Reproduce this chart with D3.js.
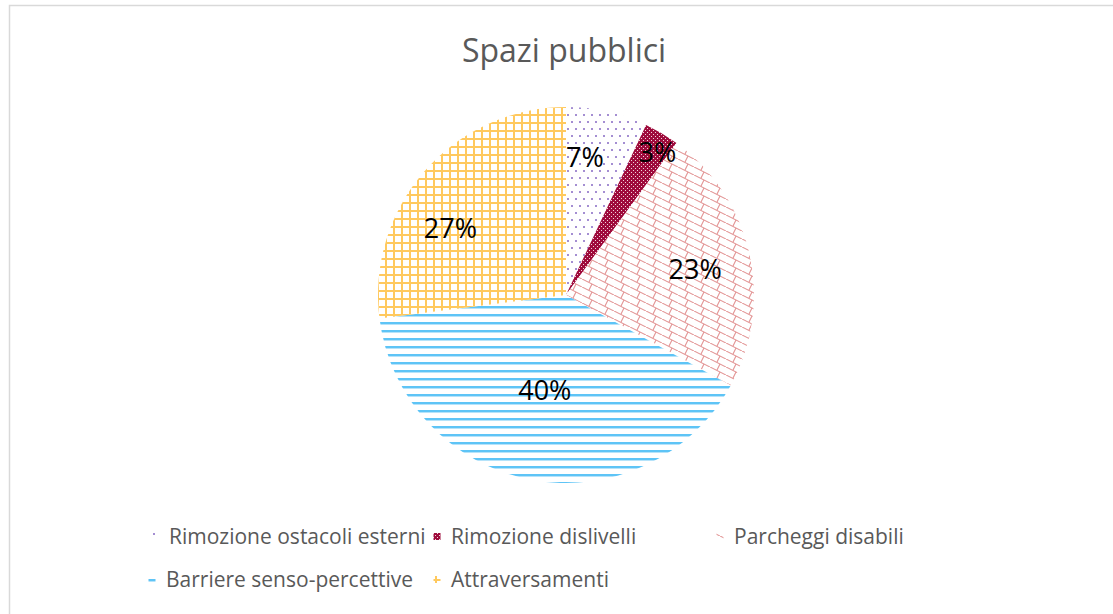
<!DOCTYPE html>
<html>
<head>
<meta charset="utf-8">
<script src="https://cdn.jsdelivr.net/npm/d3@7"></script>
<style>
  html, body { margin: 0; padding: 0; background: #fff; }
  svg { display: block; }
</style>
</head>
<body>
<svg id="chart" width="1113" height="614"></svg>
<script>
// Survey shares for public spaces
const categories = [
  "Rimozione ostacoli esterni",
  "Rimozione dislivelli",
  "Parcheggi disabili",
  "Barriere senso-percettive",
  "Attraversamenti"
];
const values = [7, 3, 23, 40, 27];
const valueLabels = ["7%", "3%", "23%", "40%", "27%"];
const title = "Spazi pubblici";

// Label placement per slice: [radius fraction, angular nudge in degrees]
const labelPlacement = [[0.74, -4.8], [0.9, 2.1], [0.7, 1.6], [0.52, 1.7], [0.71, -11.4]];
const patternIds = ["pDots", "pConfetti", "pShingle", "pHoriz", "pGrid"];

const svg = d3.select("#chart");
const W = 1113, H = 614;
const font = "'Open Sans', 'Noto Sans', sans-serif";

// chart area frame
svg.append("rect")
  .attr("x", 9.5).attr("y", 5.5)
  .attr("width", W).attr("height", H)
  .attr("fill", "#fff").attr("stroke", "#D9D9D9").attr("stroke-width", 1.5);

// fill patterns
const defs = svg.append("defs");

// sparse dots
const pd = defs.append("pattern").attr("id", "pDots").attr("patternUnits", "userSpaceOnUse")
  .attr("width", 8).attr("height", 14);
pd.append("rect").attr("width", 8).attr("height", 14).attr("fill", "#fff");
pd.append("rect").attr("x", 1).attr("y", 1).attr("width", 2).attr("height", 2).attr("fill", "#A48ED2");
pd.append("rect").attr("x", 5).attr("y", 8).attr("width", 2).attr("height", 2).attr("fill", "#A48ED2");

// dark confetti
const pc = defs.append("pattern").attr("id", "pConfetti").attr("patternUnits", "userSpaceOnUse")
  .attr("width", 4).attr("height", 4);
pc.append("rect").attr("width", 4).attr("height", 4).attr("fill", "#9E0B3C");
pc.append("rect").attr("x", 1).attr("y", 1).attr("width", 1).attr("height", 1).attr("fill", "#F2D4DC");
pc.append("rect").attr("x", 3).attr("y", 3).attr("width", 1).attr("height", 1).attr("fill", "#F2D4DC");

// shingle
const ps = defs.append("pattern").attr("id", "pShingle").attr("patternUnits", "userSpaceOnUse")
  .attr("width", 16).attr("height", 8);
ps.append("rect").attr("width", 16).attr("height", 8).attr("fill", "#fff");
ps.append("path")
  .attr("d", "M-2,-1 L18,9 M10,5 L6.8,11.4 M10,-3 L6.8,3.4")
  .attr("stroke", "#E39494").attr("stroke-width", 1.1).attr("fill", "none");

// horizontal lines
const ph = defs.append("pattern").attr("id", "pHoriz").attr("patternUnits", "userSpaceOnUse")
  .attr("width", 8).attr("height", 8);
ph.append("rect").attr("width", 8).attr("height", 8).attr("fill", "#fff");
ph.append("rect").attr("x", 0).attr("y", 3).attr("width", 8).attr("height", 2).attr("fill", "#5EC4F6");
ph.append("rect").attr("x", 0).attr("y", 5).attr("width", 8).attr("height", 1).attr("fill", "#B5E3FA");

// grid
const pg = defs.append("pattern").attr("id", "pGrid").attr("patternUnits", "userSpaceOnUse")
  .attr("width", 8).attr("height", 8);
pg.append("rect").attr("width", 8).attr("height", 8).attr("fill", "#fff");
pg.append("rect").attr("x", 3).attr("y", 0).attr("width", 2).attr("height", 8).attr("fill", "#FFC95E");
pg.append("rect").attr("x", 0).attr("y", 3).attr("width", 8).attr("height", 2).attr("fill", "#FFC95E");

// title
svg.append("text")
  .attr("x", 564).attr("y", 62)
  .attr("text-anchor", "middle")
  .attr("font-family", font).attr("font-size", 32)
  .attr("fill", "#595959")
  .text(title);

// pie
const cx = 566, cy = 295, R = 188;
const pie = d3.pie().sort(null).value(d => d);
const arcs = pie(values);
const arc = d3.arc().innerRadius(0).outerRadius(R);

const g = svg.append("g").attr("transform", `translate(${cx},${cy})`);
g.selectAll("path.slice")
  .data(arcs)
  .join("path")
  .attr("class", "slice")
  .attr("d", arc)
  .attr("fill", (d, i) => `url(#${patternIds[i]})`);

// data labels
g.selectAll("text.lbl")
  .data(arcs)
  .join("text")
  .attr("class", "lbl")
  .attr("transform", (d, i) => {
    const [f, nudge] = labelPlacement[i];
    const a = (d.startAngle + d.endAngle) / 2 + nudge * Math.PI / 180;
    const r = R * f;
    return `translate(${r * Math.sin(a)},${-r * Math.cos(a)})`;
  })
  .attr("text-anchor", "middle")
  .attr("dy", "0.35em")
  .attr("font-family", font).attr("font-size", 27)
  .attr("fill", "#000")
  .text((d, i) => valueLabels[i]);

// legend
const legendRows = [[0, 1, 2], [3, 4]];
const legendX = [[155, 437, 720], [152, 437]];
const legendY = [537, 580];
legendRows.forEach((row, r) => {
  row.forEach((idx, k) => {
    const x = legendX[r][k];
    const y = legendY[r];
    svg.append("rect")
      .attr("x", x - 3.5).attr("y", y - 4)
      .attr("width", 7).attr("height", 7)
      .attr("fill", `url(#${patternIds[idx]})`);
    svg.append("text")
      .attr("x", x + 14).attr("y", y)
      .attr("dy", "0.35em")
      .attr("font-family", font).attr("font-size", 21)
      .attr("fill", "#595959")
      .text(categories[idx]);
  });
});
</script>
</body>
</html>
